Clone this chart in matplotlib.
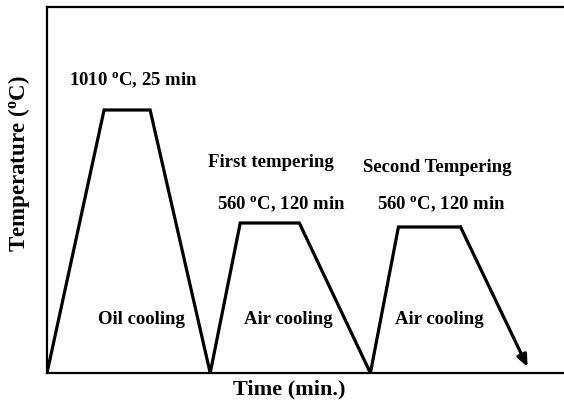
import matplotlib
matplotlib.use("Agg")
import matplotlib.pyplot as plt

plt.rcParams["font.family"] = ["Liberation Serif", "DejaVu Serif"]
plt.rcParams["font.weight"] = "bold"
plt.rcParams["mathtext.fontset"] = "custom"
plt.rcParams["mathtext.rm"] = "Liberation Serif:bold"
plt.rcParams["mathtext.it"] = "Liberation Serif:bold"
plt.rcParams["mathtext.bf"] = "Liberation Serif:bold"

# Schematic heat-treatment cycle (arbitrary time / temperature units)
time = [0, 57, 103, 163, 193, 252, 323, 351, 413]
temp = [0, 263, 263, 0, 150, 150, 0, 146, 146]
arrow_end = (480, 6)

stage_labels = ["1010 $^{\\mathrm{o}}$C, 25 min", "First tempering", "560 $^{\\mathrm{o}}$C, 120 min",
                "Second Tempering", "560 $^{\\mathrm{o}}$C, 120 min"]
cooling_labels = ["Oil cooling", "Air cooling", "Air cooling"]

fig = plt.figure(figsize=(5.64, 4.06), dpi=100)
ax = fig.add_axes([47 / 564, 32 / 406, 517 / 564 + 0.01, 366 / 406])

ax.plot(time, temp, color="black", lw=2.3, solid_joinstyle="miter")
ax.annotate("", xy=arrow_end, xytext=(time[-1], temp[-1]),
            arrowprops=dict(arrowstyle="-|>,head_length=0.7,head_width=0.3",
                            color="black", lw=2.3, shrinkA=0, shrinkB=0))

ax.set_xlim(0, 522)
ax.set_ylim(0, 366)
ax.set_xticks([])
ax.set_yticks([])
ax.spines["right"].set_visible(False)
for s in ["left", "bottom", "top"]:
    ax.spines[s].set_linewidth(1.6)

fs = 13.5
ax.text(86, 294, stage_labels[0], ha="center", va="center", fontsize=fs)
ax.text(224, 211, stage_labels[1], ha="center", va="center", fontsize=fs)
ax.text(234, 170, stage_labels[2], ha="center", va="center", fontsize=fs)
ax.text(390, 206, stage_labels[3], ha="center", va="center", fontsize=fs)
ax.text(394, 170, stage_labels[4], ha="center", va="center", fontsize=fs)

for x, lab in zip([94, 241, 392], cooling_labels):
    ax.text(x, 54, lab, ha="center", va="center", fontsize=fs)

ax.set_xlabel("Time (min.)", fontsize=16, fontweight="bold")
ax.xaxis.set_label_coords(0.463, -0.016)
ax.set_ylabel("Temperature ($^{\\mathrm{o}}$C)", fontsize=16.5, fontweight="bold")
ax.yaxis.set_label_coords(-0.028, 0.575)

fig.savefig("out.png", dpi=100)
